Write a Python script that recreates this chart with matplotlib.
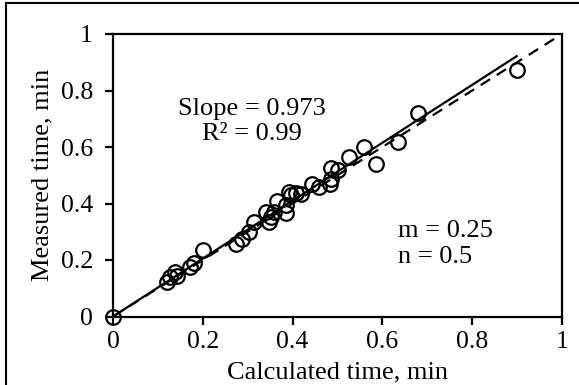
import matplotlib
matplotlib.use("Agg")
import matplotlib.pyplot as plt
from matplotlib.lines import Line2D
import numpy as np

plt.rcParams['font.family'] = ['Liberation Serif', 'DejaVu Serif']
plt.rcParams['mathtext.fontset'] = 'stix'

# Data
calc_time = [0.0, 0.12, 0.127, 0.139, 0.142, 0.171, 0.18, 0.20,
             0.273, 0.288, 0.303, 0.314, 0.348, 0.351, 0.34, 0.359,
             0.366, 0.385, 0.385, 0.392, 0.407, 0.396, 0.418, 0.444,
             0.459, 0.484, 0.485, 0.485, 0.50, 0.526, 0.56, 0.586,
             0.635, 0.679, 0.899]
meas_time = [0.0, 0.122, 0.139, 0.157, 0.145, 0.175, 0.19, 0.236,
             0.258, 0.276, 0.299, 0.334, 0.334, 0.352, 0.37, 0.37,
             0.41, 0.367, 0.394, 0.441, 0.436, 0.429, 0.435, 0.47,
             0.459, 0.47, 0.488, 0.524, 0.518, 0.565, 0.60, 0.541,
             0.618, 0.719, 0.872]
fit_slope = 1.025
fit_x = [0.0, 0.899]
ref_x = [0.0, 1.0]
ticks = [0, 0.2, 0.4, 0.6, 0.8, 1]
tick_labels = ['0', '0.2', '0.4', '0.6', '0.8', '1']

W, H = 579, 385
fig = plt.figure(figsize=(W / 100, H / 100), dpi=100)
ax = fig.add_axes([113 / W, 1 - 316.5 / H, (562 - 113) / W, (316.5 - 34) / H])

ax.plot(calc_time, meas_time, linestyle='none', marker='o', markersize=10.5,
        markerfacecolor='none', markeredgecolor='black', markeredgewidth=1.6,
        clip_on=False, zorder=3)
fx = np.array(fit_x)
ax.plot(fx, fit_slope * fx, color='black', linewidth=1.6, zorder=4)
ax.plot(ref_x, ref_x, color='black', linewidth=1.6, linestyle=(0, (5, 3.5)),
        zorder=4)

ax.set_xlim(0, 1)
ax.set_ylim(0, 1)
ax.set_xticks(ticks)
ax.set_xticklabels(tick_labels)
ax.set_yticks(ticks)
ax.set_yticklabels(tick_labels)
for s in ax.spines.values():
    s.set_linewidth(1.6)
ax.tick_params(axis='both', direction='out', length=5.5, width=1.6,
               labelsize=18.5, colors='black')
ax.tick_params(axis='x', pad=5)
ax.tick_params(axis='y', pad=9)

ax.set_xlabel('Calculated time, min', fontsize=19, labelpad=6)
ax.set_ylabel('Measured time, min', fontsize=19, labelpad=5)

ax.text(0.31, 0.624, 'Slope = 0.973\nR² = 0.99', fontsize=19, ha='center',
        va='baseline', linespacing=1.2, multialignment='center')
ax.text(0.635, 0.188, 'm = 0.25\nn = 0.5', fontsize=19, ha='left',
        va='baseline', linespacing=1.25)

# outer frame (left and top)
fig.add_artist(Line2D([6 / W, 6 / W], [0, 1 - 3 / H], color='black',
                      linewidth=1.5, transform=fig.transFigure))
fig.add_artist(Line2D([6 / W, 1], [1 - 3 / H, 1 - 3 / H], color='black',
                      linewidth=1.5, transform=fig.transFigure))

fig.savefig('out.png', dpi=100)
